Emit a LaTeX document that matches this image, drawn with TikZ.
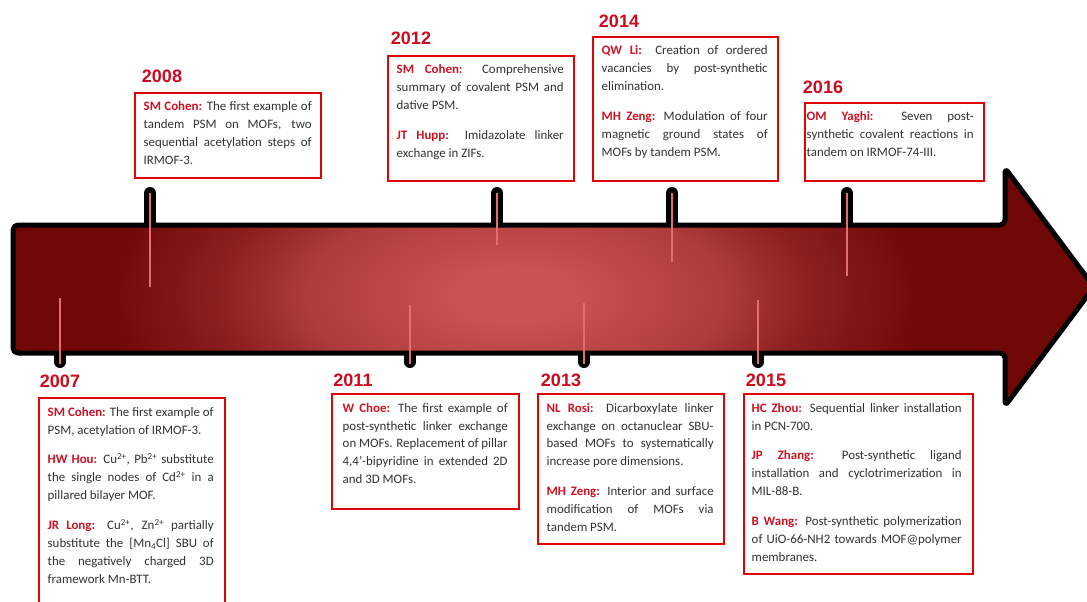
\documentclass[tikz,border=0pt]{standalone}
\usepackage{fontspec}
\setmainfont{Carlito}
\newfontfamily\yearfont{Liberation Sans}
\usetikzlibrary{calc}
\definecolor{namered}{RGB}{208,18,36}
\definecolor{yearred}{RGB}{204,12,30}
\definecolor{boxred}{RGB}{226,4,4}
\definecolor{bodytxt}{RGB}{50,50,50}
\definecolor{darkbody}{RGB}{112,8,8}
\definecolor{glowc}{RGB}{202,82,82}
\definecolor{glowm}{RGB}{174,60,60}
\definecolor{glowd}{RGB}{140,30,30}
\definecolor{pinline}{RGB}{228,110,110}
\pgfdeclareradialshading{glow}{\pgfpoint{0bp}{0bp}}{color(0bp)=(glowc); color(3bp)=(glowc); color(11bp)=(glowm); color(16bp)=(glowd); color(22bp)=(darkbody); color(50bp)=(darkbody)}
\newcommand\who[1]{\textcolor{namered}{\textbf{#1}}}
\newcommand\pgap{\par\vspace{11.8pt}}
\newcommand\supr[1]{\textsuperscript{#1}}
\newcommand\txtsetup{\hyphenpenalty=10000\relax\exhyphenpenalty=10000\relax\tolerance=10000\relax\hbadness=10000\relax\spaceskip=0.226em plus 1.5em minus 0.08em\relax}
\begin{document}
\begin{tikzpicture}[x=1pt,y=-1pt,
  stem/.style={line width=12pt, line cap=round, black},
  pinkline/.style={line width=1.6pt, pinline},
  yearlbl/.style={anchor=base, inner sep=0pt, text=yearred, font=\yearfont\bfseries\fontsize{18pt}{20pt}\selectfont},
  evbox/.style={draw=boxred, line width=2.3pt, anchor=north west, inner sep=0pt, rectangle},
  txt/.style={anchor=north west, inner sep=0pt, align=justify, text=bodytxt,
    font=\fontsize{12.9pt}{17.95pt}\selectfont, execute at begin node=\txtsetup},
  arrowbody/.style={rounded corners=5pt}
]
\useasboundingbox (0,0) rectangle (1087,602);
\fill[white] (0,0) rectangle (1087,602);

% stems
\foreach \x in {150,497,672,847} \draw[stem] (\x,193) -- (\x,240);
\foreach \x in {60,410,584,758} \draw[stem] (\x,340) -- (\x,362);

% arrow body
\begin{scope}
  \clip[arrowbody] (13,225) -- (1005,225) -- (1005,168) -- (1094,287) -- (1005,406) -- (1005,353) -- (13,353) -- cycle;
  \fill[darkbody] (0,150) rectangle (1100,420);
  \shade[shading=glow] (45,75) rectangle (985,515);
\end{scope}
\draw[arrowbody, line width=5pt, line join=round] (13,225) -- (1005,225) -- (1005,168) -- (1094,287) -- (1005,406) -- (1005,353) -- (13,353) -- cycle;

% pink lines
\foreach \x/\b in {150/287,497/245,672/262,847/276} \draw[pinkline] (\x,193) -- (\x,\b);
\foreach \x/\t in {60/298,410/305,584/303,758/300} \draw[pinkline] (\x,\t) -- (\x,364);

% year labels
\node[yearlbl] (y2007) at (60,387) {2007};
\node[yearlbl] (y2008) at (162,82) {2008};
\node[yearlbl] (y2011) at (353,386) {2011};
\node[yearlbl] (y2012) at (411,45) {2012};
\node[yearlbl] (y2013) at (561,386) {2013};
\node[yearlbl] (y2014) at (619,28) {2014};
\node[yearlbl] (y2015) at (766,386) {2015};
\node[yearlbl] (y2016) at (823,93) {2016};

% boxes
\node[evbox, minimum width=186pt, minimum height=215pt] (b2007) at (38,397) {};
\node[evbox, minimum width=186pt, minimum height=85pt] (b2008) at (134,92) {};
\node[evbox, minimum width=187pt, minimum height=115pt] (b2011) at (331,393) {};
\node[evbox, minimum width=186pt, minimum height=125pt] (b2012) at (387,55) {};
\node[evbox, minimum width=186pt, minimum height=150pt] (b2013) at (537,393) {};
\node[evbox, minimum width=185pt, minimum height=144pt] (b2014) at (592,36) {};
\node[evbox, minimum width=229pt, minimum height=180pt] (b2015) at (743,393) {};
\node[evbox, minimum width=179pt, minimum height=78pt] (b2016) at (804,102) {};

% texts
\node[txt, text width=166pt] (t2007) at (47.5,406.8) {\who{SM Cohen:} The first example of\linebreak PSM, acetylation of IRMOF-3.\pgap
\who{HW Hou:} Cu\supr{2+}, Pb\supr{2+} substitute\linebreak the single nodes of Cd\supr{2+} in a\linebreak pillared bilayer MOF.\pgap
\who{JR Long:} Cu\supr{2+}, Zn\supr{2+} partially\linebreak substitute the [Mn\textsubscript{4}Cl] SBU of\linebreak the negatively charged 3D\linebreak framework Mn-BTT.};

\node[txt, text width=168pt] (t2008) at (143.5,101.5) {\who{SM Cohen:} The first example of\linebreak tandem PSM on MOFs, two\linebreak sequential acetylation steps of\linebreak IRMOF-3.};

\node[txt, text width=165pt] (t2011) at (342.5,402.8) {\who{W Choe:} The first example of\linebreak post-synthetic linker exchange\linebreak on MOFs. Replacement of pillar\linebreak 4,4’-bipyridine in extended 2D\linebreak and 3D MOFs.};

\node[txt, text width=167pt] (t2012) at (396.5,64.5) {\who{SM Cohen:} Comprehensive\linebreak summary of covalent PSM and\linebreak dative PSM.\pgap
\who{JT Hupp:} Imidazolate linker\linebreak exchange in ZIFs.};

\node[txt, text width=167pt] (t2013) at (546.5,402.8) {\who{NL Rosi:} Dicarboxylate linker\linebreak exchange on octanuclear SBU-\linebreak{}based MOFs to systematically\linebreak increase pore dimensions.\pgap
\who{MH Zeng:} Interior and surface\linebreak modification of MOFs via\linebreak tandem PSM.};

\node[txt, text width=166pt] (t2014) at (601.5,45.5) {\who{QW Li:} Creation of ordered\linebreak vacancies by post-synthetic\linebreak elimination.\pgap
\who{MH Zeng:} Modulation of four\linebreak magnetic ground states of\linebreak MOFs by tandem PSM.};

\node[txt, text width=210pt] (t2015) at (751.5,402.8) {\who{HC Zhou:} Sequential linker installation\linebreak in PCN-700.\pgap
\who{JP Zhang:} Post-synthetic ligand\linebreak installation and cyclotrimerization in\linebreak MIL-88-B.\pgap
\who{B Wang:} Post-synthetic polymerization\linebreak of UiO-66-NH2 towards MOF@polymer\linebreak membranes.};

\node[txt, text width=167pt] (t2016) at (806.5,111.5) {\who{OM Yaghi:} Seven post-\linebreak{}synthetic covalent reactions in\linebreak tandem on IRMOF-74-III.};
\end{tikzpicture}
\end{document}
